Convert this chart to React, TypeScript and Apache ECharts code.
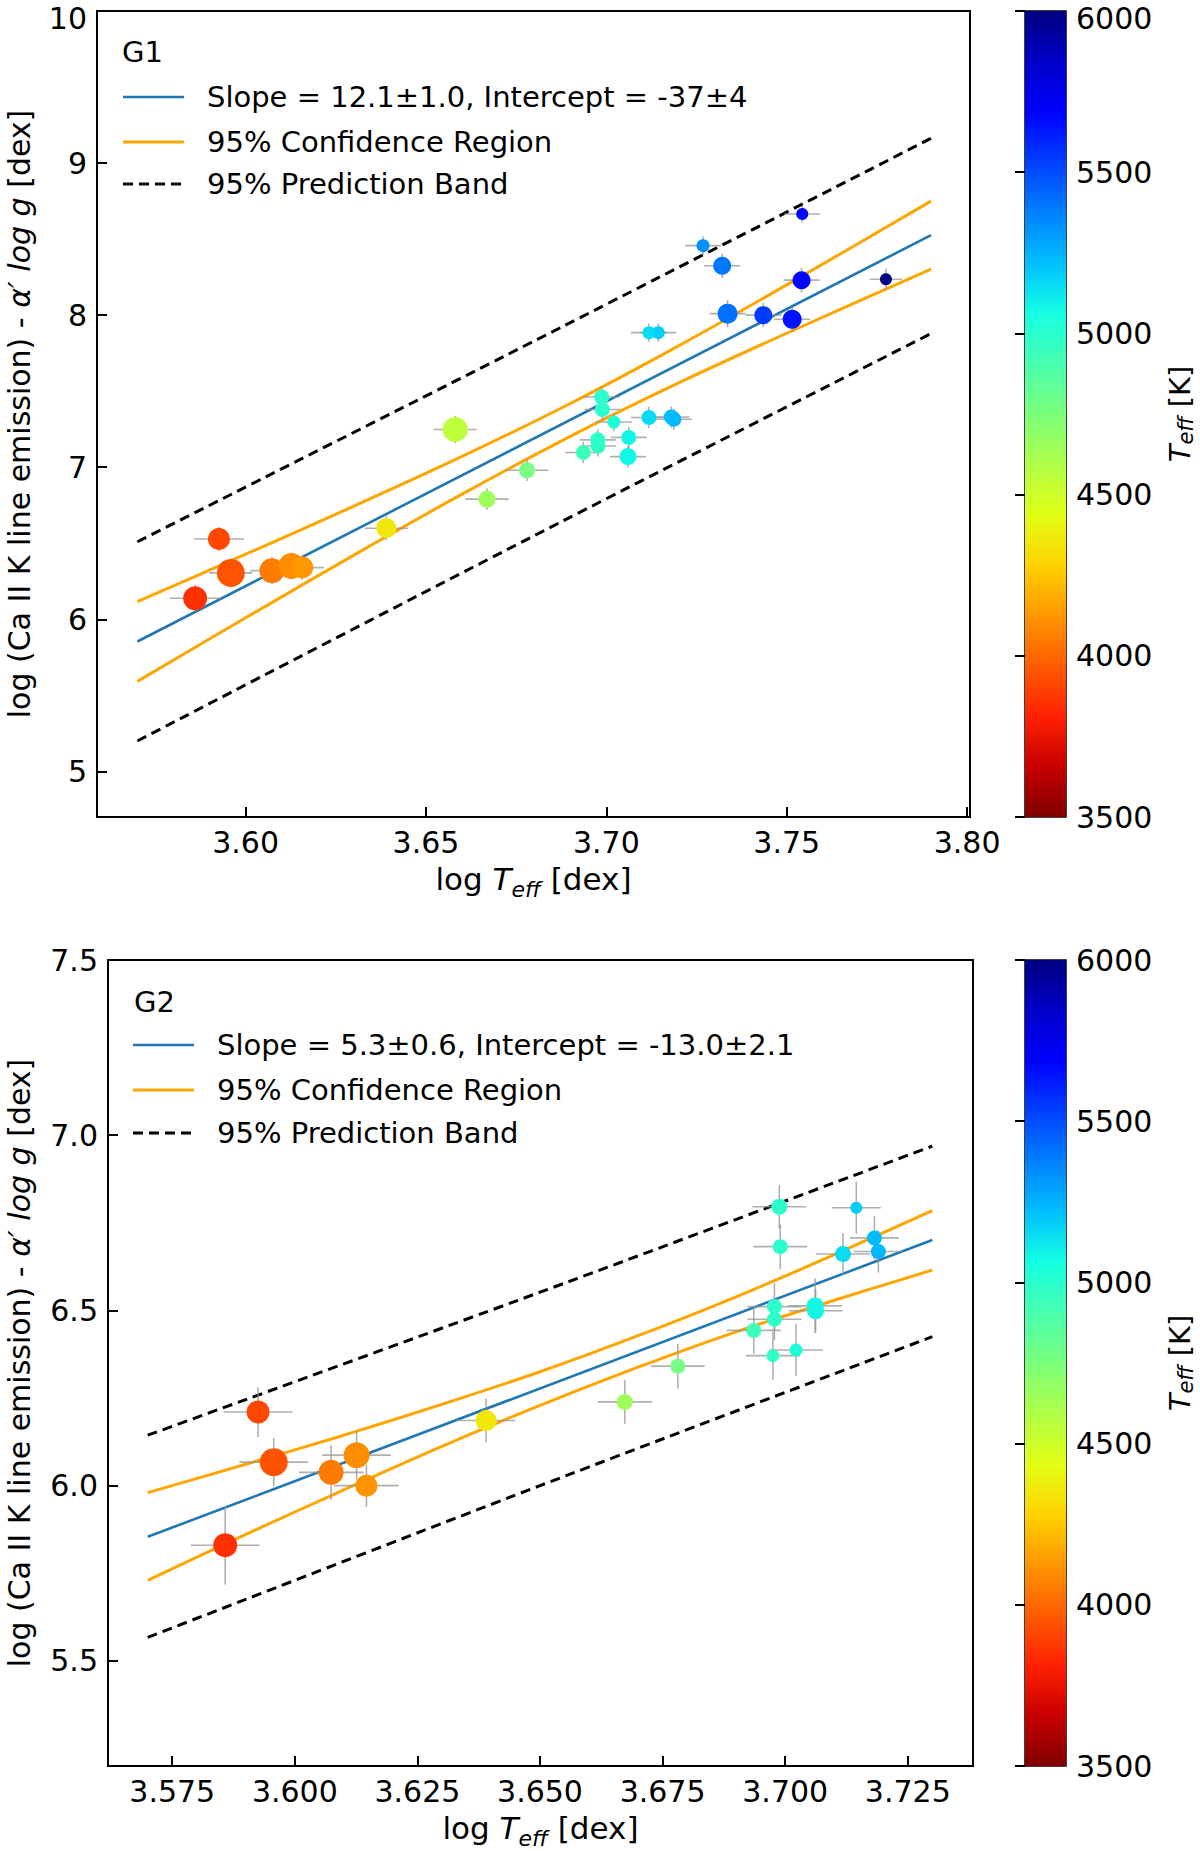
import * as echarts from "echarts";
import { useEffect, useRef } from "react";

// ---- G1 (top panel) ----
const g1LogT = [3.5860, 3.5926, 3.5959, 3.6073, 3.6127, 3.6157, 3.6390, 3.6581, 3.6669, 3.6780, 3.6936, 3.6976, 3.6977, 3.6987, 3.6989, 3.7021, 3.7060, 3.7062, 3.7118, 3.7180, 3.7187, 3.7118, 3.7144, 3.7268, 3.7321, 3.7336, 3.7435, 3.7515, 3.7541, 3.7543, 3.7775];
const g1Y = [6.138, 6.528, 6.305, 6.320, 6.350, 6.340, 6.599, 7.248, 6.790, 6.980, 7.097, 7.180, 7.140, 7.462, 7.380, 7.297, 7.070, 7.196, 7.327, 7.330, 7.315, 7.885, 7.885, 8.457, 8.325, 8.010, 8.000, 7.973, 8.230, 8.665, 8.236];
const g1Size = [24, 22, 28, 25, 26, 22, 20, 25, 17, 16, 15, 15, 15, 15, 15, 13, 17, 15, 15, 15, 15, 13, 13, 13, 18, 20, 18, 19, 18, 12, 12];
const g1ErrX = [0.007, 0.007, 0.006, 0.006, 0.006, 0.006, 0.006, 0.006, 0.006, 0.006, 0.005, 0.005, 0.005, 0.005, 0.005, 0.005, 0.005, 0.005, 0.005, 0.005, 0.005, 0.005, 0.005, 0.005, 0.005, 0.005, 0.005, 0.005, 0.005, 0.005, 0.0045];
const g1ErrY = [0.09, 0.08, 0.09, 0.09, 0.09, 0.08, 0.08, 0.09, 0.07, 0.07, 0.07, 0.07, 0.07, 0.07, 0.07, 0.06, 0.07, 0.07, 0.07, 0.07, 0.07, 0.06, 0.06, 0.06, 0.08, 0.09, 0.08, 0.08, 0.08, 0.055, 0.07];
const g1FitX = [3.57, 3.79];
const g1FitY = [5.854, 8.526];
const g1BandX = [3.57, 3.60, 3.63, 3.66, 3.69, 3.72, 3.75, 3.79];
const g1ConfHi = [6.116, 6.428, 6.744, 7.071, 7.419, 7.798, 8.199, 8.750];
const g1ConfLo = [5.592, 6.010, 6.422, 6.823, 7.203, 7.554, 7.881, 8.302];
const g1PredX = [3.57, 3.68, 3.79];
const g1PredHi = [6.51, 7.83, 9.163];
const g1PredLo = [5.20, 6.55, 7.879];
const g1XTicks = [3.60, 3.65, 3.70, 3.75, 3.80];
const g1YTicks = [5, 6, 7, 8, 9, 10];

// ---- G2 (bottom panel) ----
const g2LogT = [3.5858, 3.5925, 3.5957, 3.6074, 3.6126, 3.6146, 3.6390, 3.6673, 3.6781, 3.6936, 3.6975, 3.6978, 3.6978, 3.6988, 3.6990, 3.7022, 3.7061, 3.7062, 3.7118, 3.7145, 3.7182, 3.7190];
const g2Y = [5.830, 6.210, 6.067, 6.038, 6.087, 6.000, 6.186, 6.239, 6.341, 6.443, 6.371, 6.475, 6.511, 6.796, 6.682, 6.387, 6.513, 6.499, 6.661, 6.793, 6.707, 6.668];
const g2Size = [24, 23, 28, 25, 26, 22, 21, 16, 15, 15, 13, 15, 15, 16, 15, 13, 17, 17, 16, 12, 15, 15];
const g2ErrX = [0.007, 0.007, 0.007, 0.0066, 0.007, 0.0066, 0.006, 0.0055, 0.0055, 0.0055, 0.0055, 0.0055, 0.0055, 0.0055, 0.0055, 0.0055, 0.0055, 0.0055, 0.0055, 0.005, 0.005, 0.005];
const g2ErrY = [0.112, 0.071, 0.069, 0.078, 0.07, 0.06, 0.063, 0.062, 0.064, 0.067, 0.069, 0.06, 0.067, 0.062, 0.064, 0.074, 0.078, 0.06, 0.06, 0.074, 0.062, 0.06];
const g2FitX = [3.57, 3.73];
const g2FitY = [5.854, 6.701];
const g2BandX = [3.57, 3.59, 3.61, 3.63, 3.65, 3.67, 3.69, 3.71, 3.73];
const g2ConfHi = [5.980, 6.061, 6.144, 6.232, 6.325, 6.428, 6.539, 6.659, 6.785];
const g2ConfLo = [5.730, 5.861, 5.988, 6.112, 6.229, 6.338, 6.439, 6.529, 6.615];
const g2PredX = [3.57, 3.65, 3.73];
const g2PredHi = [6.144, 6.552, 6.969];
const g2PredLo = [5.567, 6.000, 6.425];
const g2XTicks = [3.575, 3.600, 3.625, 3.650, 3.675, 3.700, 3.725];
const g2YTicks = [5.5, 6.0, 6.5, 7.0, 7.5];

const teffTicks = [3500, 4000, 4500, 5000, 5500, 6000];

// matplotlib jet sampled at t = 0, 1/16, ..., 1
const jet = ["#000080", "#0000c8", "#0000ff", "#0040ff", "#0080ff", "#00bfff", "#15ffe2", "#48ffaf", "#7bff7b", "#afff48", "#e2ff15", "#ffd200", "#ff9700", "#ff5c00", "#ff2100", "#c80000", "#800000"];

const FONT = '"DejaVu Sans", Verdana, sans-serif';

const zip = (xs: number[], ys: number[]) => xs.map((x, i) => [x, ys[i]]);

function panelSeries(p: any, gi: number) {
  const ax = { xAxisIndex: gi * 2, yAxisIndex: gi * 2 };
  const cb = { xAxisIndex: gi * 2 + 1, yAxisIndex: gi * 2 + 1 };
  const orange = { color: "#ffa500", width: 3 };
  const dashed = { color: "#000", width: 3, type: [10, 6] };
  return [
    { type: "line", ...ax, data: zip(p.fitX, p.fitY), symbol: "none", silent: true, z: 3, lineStyle: { color: "#1f77b4", width: 2.6 } },
    { type: "line", ...ax, data: zip(p.bandX, p.confHi), symbol: "none", smooth: 0.3, silent: true, z: 3, lineStyle: orange },
    { type: "line", ...ax, data: zip(p.bandX, p.confLo), symbol: "none", smooth: 0.3, silent: true, z: 3, lineStyle: orange },
    { type: "line", ...ax, data: zip(p.predX, p.predHi), symbol: "none", smooth: 0.3, silent: true, z: 3, lineStyle: dashed },
    { type: "line", ...ax, data: zip(p.predX, p.predLo), symbol: "none", smooth: 0.3, silent: true, z: 3, lineStyle: dashed },
    {
      type: "custom", ...ax, z: 4, silent: true,
      encode: { x: 0, y: 1 },
      data: p.logT.map((x: number, i: number) => [x, p.y[i], p.errX[i], p.errY[i]]),
      renderItem: (_params: any, api: any) => {
        const x = api.value(0), y = api.value(1), ex = api.value(2), ey = api.value(3);
        const l = api.coord([x - ex, y]), r = api.coord([x + ex, y]);
        const t = api.coord([x, y + ey]), b = api.coord([x, y - ey]);
        const st = { stroke: "rgba(150,150,150,0.75)", lineWidth: 1.6 };
        return {
          type: "group",
          children: [
            { type: "line", shape: { x1: l[0], y1: l[1], x2: r[0], y2: r[1] }, style: st },
            { type: "line", shape: { x1: t[0], y1: t[1], x2: b[0], y2: b[1] }, style: st },
          ],
        };
      },
    },
    {
      type: "scatter", ...ax, z: 5, silent: true,
      encode: { x: 0, y: 1 },
      data: p.logT.map((x: number, i: number) => [x, p.y[i], Math.pow(10, x), p.size[i]]),
      symbolSize: (v: number[]) => v[3],
      itemStyle: { opacity: 1 },
    },
    {
      type: "custom", ...cb, silent: true, z: 2,
      data: [[0, 3500]],
      renderItem: (_params: any, api: any) => {
        const p0 = api.coord([0, 6000]);
        const p1 = api.coord([1, 3500]);
        return {
          type: "rect",
          shape: { x: p0[0], y: p0[1], width: p1[0] - p0[0], height: p1[1] - p0[1] },
          style: {
            fill: new echarts.graphic.LinearGradient(0, 0, 0, 1, jet.map((c, k) => ({ offset: k / 16, color: c }))),
          },
        };
      },
    },
  ];
}

const tickStyle = { color: "#000", width: 2 };

const subRich = (size: number, lh: number) => ({
  n: { fontSize: size, fontFamily: FONT, color: "#000", lineHeight: lh, verticalAlign: "middle" },
  i: { fontSize: size, fontFamily: FONT, color: "#000", fontStyle: "italic", lineHeight: lh, verticalAlign: "middle" },
  s: { fontSize: Math.round(size * 0.71), fontFamily: FONT, color: "#000", fontStyle: "italic", lineHeight: lh, verticalAlign: "bottom" },
});

// on the top panel the highest tick label touches the page edge: push it down a little
const vLabel = (max: number, fmt: (v: number) => string, nudge: boolean) => ({
  fontSize: 30, color: "#000", fontFamily: FONT, margin: 10,
  formatter: (v: number) => (nudge && Math.abs(v - max) < 1e-9 ? `{t|${fmt(v)}}` : fmt(v)),
  rich: { t: { fontSize: 30, color: "#000", fontFamily: FONT, padding: [14, 0, 0, 0] } },
});

function mainAxes(p: any, gi: number) {
  const fmtY = (v: number) => v.toFixed(p.yDigits);
  const xAxis = {
    type: "value", gridIndex: gi * 2, min: p.xMin, max: p.xMax,
    axisLine: { show: false },
    axisTick: { show: true, inside: true, length: 10, lineStyle: tickStyle, customValues: p.xTicks },
    axisLabel: { customValues: p.xTicks, formatter: (v: number) => v.toFixed(p.xDigits), fontSize: 30, color: "#000", fontFamily: FONT, margin: 10 },
    splitLine: { show: false },
    name: "{n|log }{i|T}{s|eff}{n| [dex]}",
    nameLocation: "middle", nameGap: 41,
    nameTextStyle: { color: "#000", fontFamily: FONT, fontSize: 31, rich: subRich(31, 42) },
  };
  const yAxis = {
    type: "value", gridIndex: gi * 2, min: p.yMin, max: p.yMax,
    axisLine: { show: false },
    axisTick: { show: true, inside: true, length: 10, lineStyle: tickStyle, customValues: p.yTicks },
    axisLabel: { ...vLabel(p.yMax, fmtY, gi === 0), customValues: p.yTicks },
    splitLine: { show: false },
    name: "{n|log (Ca II K line emission) - }{i|α′ log g}{n| [dex]}",
    nameLocation: "middle", nameRotate: 90, nameGap: p.yNameGap,
    nameTextStyle: {
      color: "#000", fontFamily: FONT, fontSize: 30,
      rich: {
        n: { fontSize: 30, fontFamily: FONT, color: "#000", lineHeight: 32 },
        i: { fontSize: 30, fontFamily: FONT, color: "#000", fontStyle: "italic", lineHeight: 32 },
      },
    },
  };
  return { xAxis, yAxis };
}

function barAxes(gi: number) {
  const xAxis = { type: "value", gridIndex: gi * 2 + 1, min: 0, max: 1, show: false };
  const yAxis = {
    type: "value", gridIndex: gi * 2 + 1, position: "right", min: 3500, max: 6000,
    axisLine: { show: false },
    axisTick: { show: true, inside: true, length: 10, lineStyle: tickStyle, customValues: teffTicks },
    axisLabel: { ...vLabel(6000, (v: number) => String(v), gi === 0), customValues: teffTicks },
    splitLine: { show: false },
    name: "{i|T}{s|eff}{n| [K]}",
    nameLocation: "middle", nameRotate: 90, nameGap: 98,
    nameTextStyle: { color: "#000", fontFamily: FONT, fontSize: 29, rich: subRich(29, 32) },
  };
  return { xAxis, yAxis };
}

function legendGraphic(x: number, yTitle: number, rows: number[], lineX: number, textX: number, title: string, fitLabel: string) {
  const txt = (s: string, tx: number, ty: number) => ({
    type: "text", x: tx, y: ty, silent: true,
    style: { text: s, fill: "#000", font: `29px ${FONT}`, textVerticalAlign: "middle", verticalAlign: "middle" },
  });
  const seg = (y: number, style: any) => ({
    type: "line", silent: true, shape: { x1: lineX, y1: y, x2: lineX + 61, y2: y }, style,
  });
  return [
    txt(title, x, yTitle),
    seg(rows[0], { stroke: "#1f77b4", lineWidth: 2.6 }),
    txt(fitLabel, textX, rows[0]),
    seg(rows[1], { stroke: "#ffa500", lineWidth: 3 }),
    txt("95% Confidence Region", textX, rows[1]),
    seg(rows[2], { stroke: "#000", lineWidth: 3, lineDash: [10, 6] }),
    txt("95% Prediction Band", textX, rows[2]),
  ];
}

const panels = [
  {
    grid: { left: 97, top: 11, width: 873, height: 806 },
    bar: { left: 1025, top: 11, width: 41, height: 806 },
    xMin: 3.5588, xMax: 3.8008, yMin: 4.7, yMax: 10,
    xTicks: g1XTicks, yTicks: g1YTicks, xDigits: 2, yDigits: 0, yNameGap: 62,
    logT: g1LogT, y: g1Y, size: g1Size, errX: g1ErrX, errY: g1ErrY,
    fitX: g1FitX, fitY: g1FitY, bandX: g1BandX, confHi: g1ConfHi, confLo: g1ConfLo,
    predX: g1PredX, predHi: g1PredHi, predLo: g1PredLo,
  },
  {
    grid: { left: 108, top: 960, width: 865, height: 806 },
    bar: { left: 1025, top: 960, width: 41, height: 806 },
    xMin: 3.5619, xMax: 3.7383, yMin: 5.2, yMax: 7.5,
    xTicks: g2XTicks, yTicks: g2YTicks, xDigits: 3, yDigits: 1, yNameGap: 73,
    logT: g2LogT, y: g2Y, size: g2Size, errX: g2ErrX, errY: g2ErrY,
    fitX: g2FitX, fitY: g2FitY, bandX: g2BandX, confHi: g2ConfHi, confLo: g2ConfLo,
    predX: g2PredX, predHi: g2PredHi, predLo: g2PredLo,
  },
];

function buildOption() {
  const gridStyle = {
    show: true, borderColor: "#000", borderWidth: 2, backgroundColor: "transparent",
    containLabel: false, outerBoundsMode: "none",
  };
  const grid: any[] = [];
  const xAxis: any[] = [];
  const yAxis: any[] = [];
  const series: any[] = [];
  panels.forEach((p, gi) => {
    grid.push({ ...p.grid, ...gridStyle }, { ...p.bar, ...gridStyle, borderWidth: 1.5 });
    const m = mainAxes(p, gi);
    const b = barAxes(gi);
    xAxis.push(m.xAxis, b.xAxis);
    yAxis.push(m.yAxis, b.yAxis);
    series.push(...panelSeries(p, gi));
  });
  return {
    animation: false,
    backgroundColor: "#fff",
    textStyle: { fontFamily: FONT },
    grid, xAxis, yAxis, series,
    visualMap: {
      type: "continuous", show: false, seriesIndex: [6, 14], dimension: 2,
      min: 3500, max: 6000, inRange: { color: jet.slice().reverse() },
    },
    graphic: [
      ...legendGraphic(122, 52, [97, 142, 184], 123, 207, "G1", "Slope = 12.1±1.0, Intercept = -37±4"),
      ...legendGraphic(134, 1002, [1045, 1090, 1133], 133, 217, "G2", "Slope = 5.3±0.6, Intercept = -13.0±2.1"),
    ],
  };
}

export default function App() {
  const chartRef = useRef<HTMLDivElement | null>(null);

  useEffect(() => {
    if (!chartRef.current) return;
    const chart = echarts.init(chartRef.current, undefined, { renderer: "svg" });
    chart.setOption(buildOption() as any);
    return () => {
      chart.dispose();
    };
  }, []);

  return (
    <div
      ref={chartRef}
      style={{ position: "absolute", left: 0, top: 0, width: 1200, height: 1851, background: "#fff" }}
    />
  );
}
